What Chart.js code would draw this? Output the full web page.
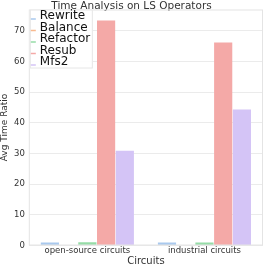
<!DOCTYPE html>
<html>
<head>
<meta charset="utf-8">
<script src="https://cdn.jsdelivr.net/npm/chart.js"></script>
<style>
  html, body { margin: 0; padding: 0; background: #fff; }
  #wrap { width: 266px; height: 266px; }
</style>
</head>
<body>
<div id="wrap"><canvas id="opsChart" width="266" height="266"></canvas></div>
<script>
// values
const circuits = ["open-source circuits", "industrial circuits"];
const operators = ["Rewrite", "Balance", "Refactor", "Resub", "Mfs2"];
const rewriteVals = [1.0, 1.0];
const balanceVals = [0, 0];
const refactorVals = [1.1, 1.0];
const resubVals = [73.4, 66.2];
const mfs2Vals = [30.9, 44.4];
const yTicks = [0, 10, 20, 30, 40, 50, 60, 70];

const colors = ["#a9c9ee", "#f8b98f", "#96dca7", "#f4a9a7", "#d4c4f6"];
const series = [rewriteVals, balanceVals, refactorVals, resubVals, mfs2Vals];

const font = "'DejaVu Sans', sans-serif";
const textColor = "#333333";

// frame around the plot and the boxed legend in its top-left corner
const framePlugin = {
  id: "frame",
  afterDraw(chart) {
    const ctx = chart.ctx;
    const a = chart.chartArea;
    ctx.save();
    ctx.strokeStyle = "#e4e4e4";
    ctx.lineWidth = 1;
    ctx.strokeRect(a.left + 0.5, a.top + 0.5, a.right - a.left - 1, a.bottom - a.top - 1);

    const bx = a.left + 1, by = a.top, bw = 63, bh = 59, step = 11.5;
    ctx.fillStyle = "rgba(255,255,255,0.95)";
    ctx.fillRect(bx, by, bw, bh);
    ctx.strokeStyle = "#e6e6e6";
    ctx.strokeRect(bx + 0.5, by + 0.5, bw - 1, bh - 1);

    ctx.font = "12px " + font;
    ctx.textBaseline = "middle";
    chart.data.datasets.forEach((ds, i) => {
      const cy = by + 6.5 + step * i;
      ctx.strokeStyle = ds.backgroundColor;
      ctx.lineWidth = 1.5;
      ctx.beginPath();
      ctx.moveTo(bx + 1, cy + 3);
      ctx.lineTo(bx + 6, cy + 3);
      ctx.stroke();
      ctx.fillStyle = "#111";
      ctx.fillText(ds.label, bx + 10, cy);
    });
    ctx.restore();
  }
};

new Chart(document.getElementById("opsChart"), {
  type: "bar",
  data: {
    labels: circuits,
    datasets: operators.map((name, i) => ({
      label: name,
      data: series[i],
      backgroundColor: colors[i],
      borderWidth: 0,
      categoryPercentage: 0.8,
      barPercentage: 0.97
    }))
  },
  options: {
    responsive: false,
    animation: false,
    layout: { padding: { top: 0, right: 3, bottom: 0, left: 0 } },
    plugins: {
      title: {
        display: true,
        text: "Time Analysis on LS Operators",
        color: textColor,
        font: { family: font, size: 10.5, weight: "normal", lineHeight: 1 },
        padding: { top: 1, bottom: -2 }
      },
      legend: { display: false },
      tooltip: { enabled: false }
    },
    scales: {
      x: {
        grid: { display: false, drawTicks: false },
        border: { display: false },
        ticks: { color: textColor, font: { family: font, size: 8.5, lineHeight: 1 }, padding: 1 },
        title: {
          display: true, text: "Circuits", color: textColor,
          font: { family: font, size: 10, lineHeight: 1 }, padding: { top: 0, bottom: 0 }
        }
      },
      y: {
        min: 0,
        max: 77,
        afterBuildTicks(axis) { axis.ticks = yTicks.map(v => ({ value: v })); },
        grid: { color: "#ebebeb", lineWidth: 1, drawTicks: false },
        border: { display: false },
        ticks: { color: textColor, font: { family: font, size: 8.5 }, padding: 4 },
        title: {
          display: true, text: "Avg Time Ratio", color: textColor,
          font: { family: font, size: 9, lineHeight: 1 }, padding: { top: 0, bottom: 1 }
        }
      }
    }
  },
  plugins: [framePlugin]
});
</script>
</body>
</html>
